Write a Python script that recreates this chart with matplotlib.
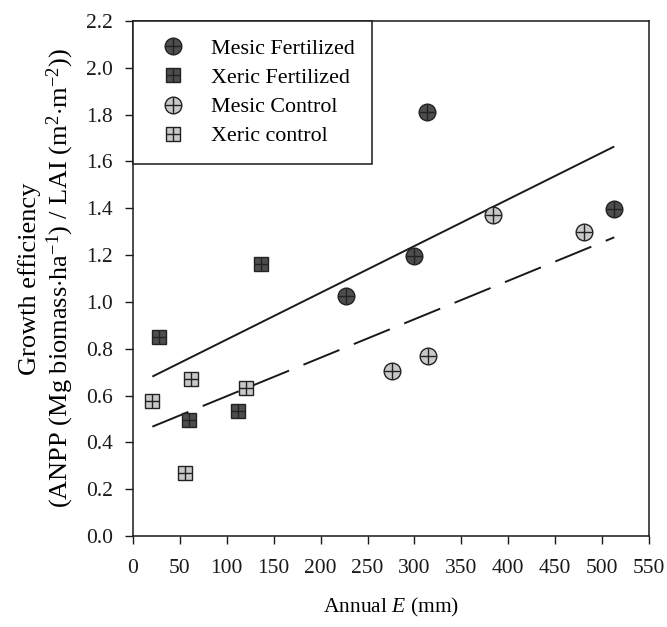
import matplotlib
matplotlib.use("Agg")
import matplotlib.pyplot as plt
from matplotlib.lines import Line2D

plt.rcParams['font.family'] = ['Liberation Serif', 'DejaVu Serif']
plt.rcParams['mathtext.fontset'] = 'custom'
plt.rcParams['mathtext.rm'] = 'Liberation Serif'
plt.rcParams['mathtext.it'] = 'Liberation Serif:italic'

# Data
mesic_fert_x = [227, 299, 313, 513]
mesic_fert_y = [1.026, 1.197, 1.81, 1.396]
xeric_fert_x = [28, 60, 112, 136]
xeric_fert_y = [0.852, 0.496, 0.535, 1.162]
mesic_ctrl_x = [276, 314, 384, 481]
mesic_ctrl_y = [0.705, 0.769, 1.372, 1.30]
xeric_ctrl_x = [20.6, 55.4, 61.5, 120.8]
xeric_ctrl_y = [0.578, 0.27, 0.670, 0.634]

fit_x = [20.6, 513]
fit_fert_y = [0.681, 1.664]
fit_ctrl_y = [0.467, 1.276]

x_ticks = list(range(0, 551, 50))
y_ticks = [0.0, 0.2, 0.4, 0.6, 0.8, 1.0, 1.2, 1.4, 1.6, 1.8, 2.0, 2.2]

dark = '#4d4d4d'
light = '#c8c8c8'
edge = '#222222'

fig = plt.figure(figsize=(6.67, 6.27), dpi=100)
ax = fig.add_axes([133/667, 91/627, (649-133)/667, (536-21)/627])

ax.plot(fit_x, fit_fert_y, color='#1a1a1a', lw=1.4, solid_capstyle='butt')
ax.plot(fit_x, fit_ctrl_y, color='#1a1a1a', lw=1.4, dashes=(20, 8))

def series(x, y, marker, size, fc):
    ax.plot(x, y, ls='none', marker=marker, ms=size, mfc=fc, mec=edge, mew=1.0, zorder=3)
    ax.plot(x, y, ls='none', marker='+', ms=size*0.95, mec=edge, mew=1.0, zorder=4)
    h1 = Line2D([], [], ls='none', marker=marker, ms=size, mfc=fc, mec=edge, mew=1.0)
    h2 = Line2D([], [], ls='none', marker='+', ms=size*0.95, mec=edge, mew=1.0)
    return (h1, h2)

h_mf = series(mesic_fert_x, mesic_fert_y, 'o', 12, dark)
h_xf = series(xeric_fert_x, xeric_fert_y, 's', 10.5, dark)
h_mc = series(mesic_ctrl_x, mesic_ctrl_y, 'o', 12, light)
h_xc = series(xeric_ctrl_x, xeric_ctrl_y, 's', 10.5, light)

ax.set_xlim(0, 550)
ax.set_ylim(0, 2.2)
ax.set_xticks(x_ticks)
ax.set_yticks(y_ticks)
ax.set_yticklabels([f'{v:.1f}' for v in y_ticks])
ax.tick_params(direction='out', length=5.5, width=1, labelsize=15.5, colors='#1a1a1a')
ax.tick_params(axis='y', pad=9)
ax.tick_params(axis='x', pad=11)
for s in ax.spines.values():
    s.set_linewidth(1.1)
    s.set_color('#1a1a1a')

ax.set_xlabel('Annual $E$ (mm)', fontsize=15.5, labelpad=13)
ax.set_ylabel('Growth efficiency\n(ANPP (Mg biomass$\\cdot$ha$^{-1}$) / LAI (m$^{2}$$\\cdot$m$^{-2}$))',
              fontsize=19, labelpad=7, linespacing=1.15)

leg = ax.legend([h_mf, h_xf, h_mc, h_xc],
                ['Mesic Fertilized', 'Xeric Fertilized', 'Mesic Control', 'Xeric control'],
                loc='upper left', borderaxespad=0, fontsize=15.8, frameon=True,
                fancybox=False, edgecolor='#1a1a1a', framealpha=1,
                borderpad=0.8, labelspacing=0.4, handletextpad=0.75, handlelength=2.0)
leg.get_frame().set_linewidth(1.1)

fig.savefig('out.png', dpi=100)
